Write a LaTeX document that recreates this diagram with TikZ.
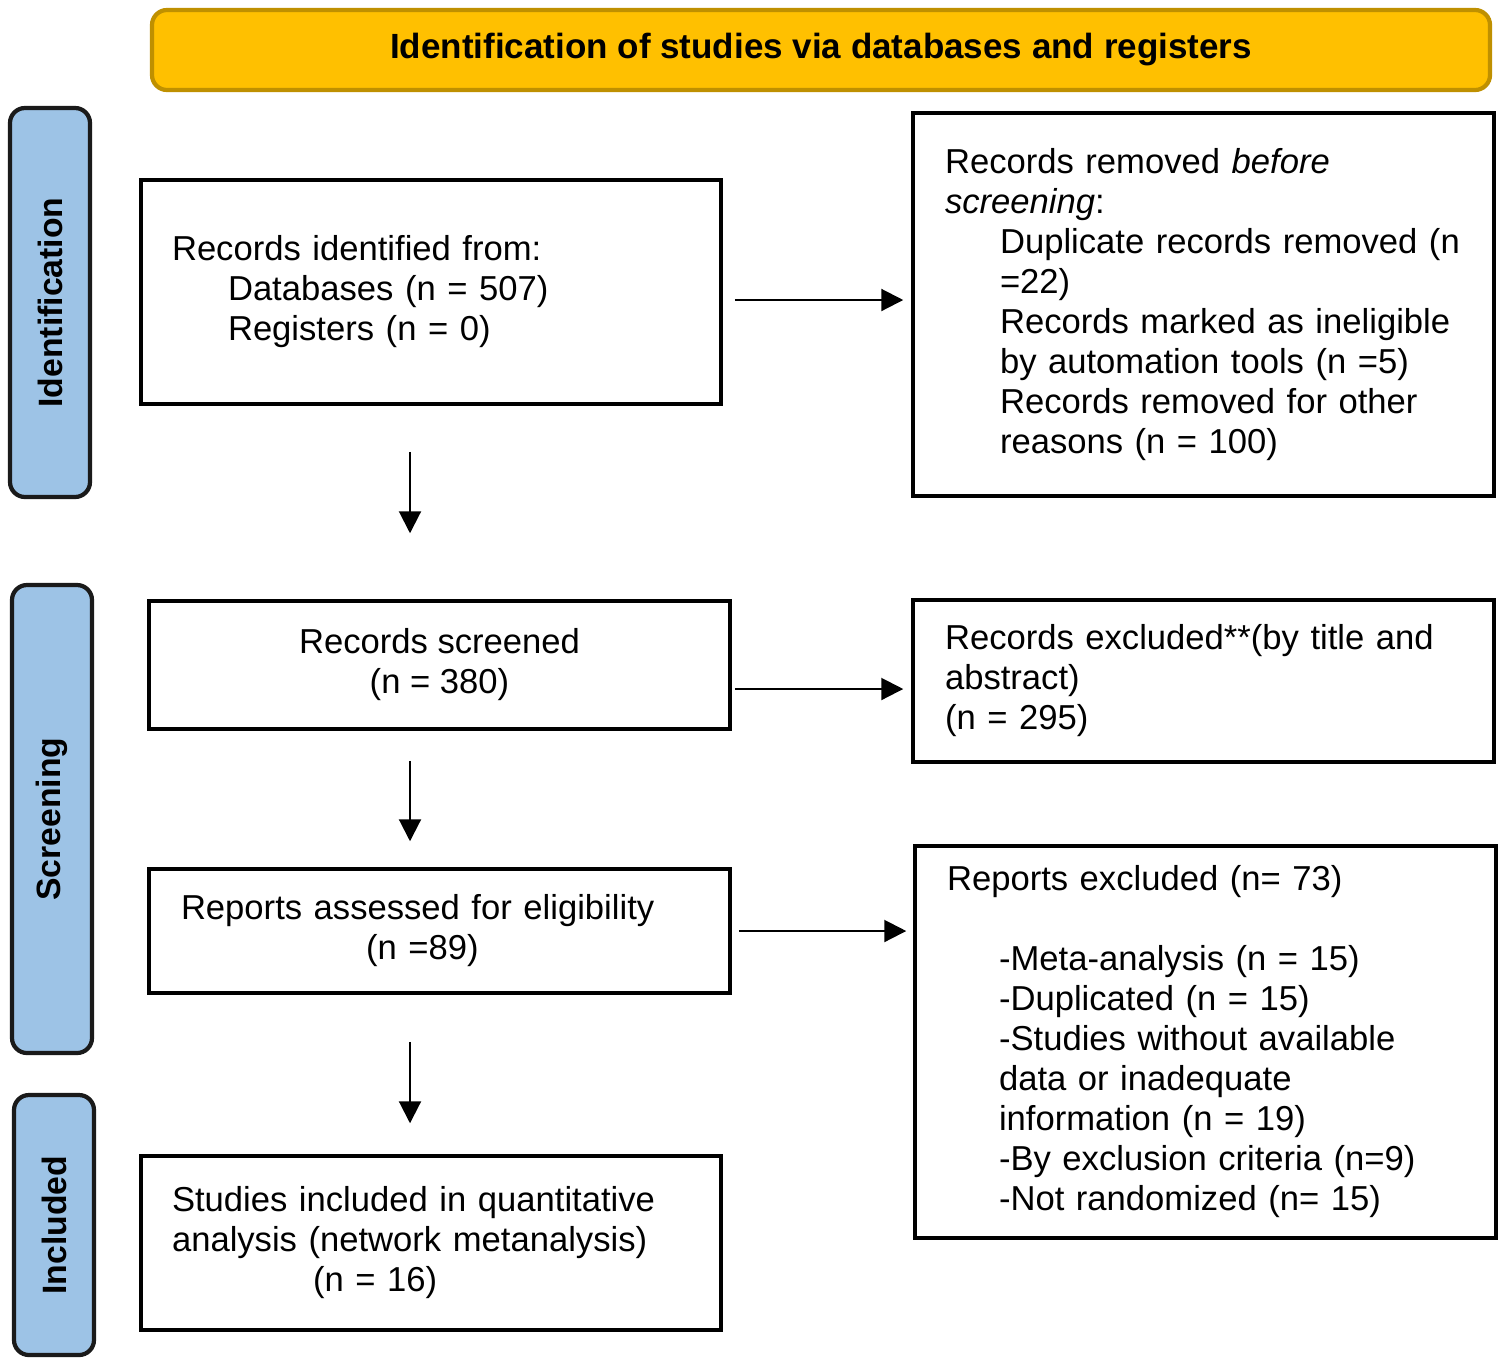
\documentclass[tikz,border=0pt]{standalone}
\usepackage{fontspec}
\setmainfont{Liberation Sans}
\usepackage{xcolor}
\usetikzlibrary{arrows.meta,positioning,calc}
\definecolor{bannerfill}{HTML}{FFC000}
\definecolor{bannerdraw}{HTML}{BF9000}
\definecolor{phasefill}{HTML}{9DC3E6}
\definecolor{phasedraw}{HTML}{1A1A1A}

\begin{document}
\begin{tikzpicture}[box/.style={rectangle,draw=black,line width=1pt,minimum width=5.80cm,font=\fontsize{9.85}{11.38}\selectfont}, leftbox/.style={box,align=left,text width=5.18cm,inner xsep=0.31cm}, rbox/.style={leftbox,minimum width=5.81cm,text width=5.17cm,inner xsep=0.32cm}, midbox/.style={box,minimum width=5.81cm,align=center}, phase/.style={rectangle,rounded corners=0.15cm,draw=phasedraw,line width=1.2pt,fill=phasefill,rotate=90,minimum height=0.80cm,font=\fontsize{9.6}{11}\selectfont\bfseries}, flow/.style={->,>={Triangle[length=0.22cm,width=0.22cm]},line width=0.6pt}]
		\useasboundingbox (0,0) rectangle (15.02,-13.65);
		\node (banner) [rectangle,rounded corners=0.15cm,draw=bannerdraw,line width=1.2pt,fill=bannerfill,minimum width=13.38cm,minimum height=0.80cm,font=\fontsize{9.96}{11.38}\selectfont\bfseries] at (8.21,-0.50) {Identification of studies via databases and registers};
		\node (phI) [phase,minimum width=3.89cm] at (0.50,-3.025) {Identification};
		\node (phS) [phase,minimum width=4.68cm] at (0.52,-8.19) {Screening};
		\node (phC) [phase,minimum width=2.60cm] at (0.54,-12.25) {Included};
		\node (B1) [leftbox,minimum height=2.24cm] at (4.31,-2.92) {Records identified from:\\ \hspace*{0.56cm}Databases (n = 507)\\ \hspace*{0.56cm}Registers (n = 0)};
		\node (R1) [rbox,minimum height=3.83cm] at (12.035,-3.045) {Records removed \textit{before}\\ \textit{screening}:\\ \hspace*{0.55cm}\mbox{Duplicate records removed (n}\\ \hspace*{0.55cm}=22)\\ \hspace*{0.55cm}Records marked as ineligible\\ \hspace*{0.55cm}by automation tools (n =5)\\ \hspace*{0.55cm}Records removed for other\\ \hspace*{0.55cm}reasons (n = 100)};
		\node (B2) [midbox,minimum height=1.28cm] at (4.395,-6.65) {Records screened\\ (n = 380)};
		\node (R2) [rbox,minimum height=1.62cm] at (12.035,-6.81) {Records excluded**(by title and\\ abstract)\\ (n = 295)};
		\node (B3) [rbox,minimum height=1.24cm] at (4.395,-9.31) {Reports assessed for eligibility\\ \hspace*{1.85cm}(n =89)};
		\node (R3) [rbox,minimum height=3.92cm] at (12.055,-10.42) {Reports excluded (n= 73)\\[0.4cm] \hspace*{0.52cm}-Meta-analysis (n = 15)\\ \hspace*{0.52cm}-Duplicated (n = 15)\\ \hspace*{0.52cm}-Studies without available\\ \hspace*{0.52cm}data or inadequate\\ \hspace*{0.52cm}information (n = 19)\\ \hspace*{0.52cm}-By exclusion criteria (n=9)\\ \hspace*{0.52cm}-Not randomized (n= 15)};
		\node (B4) [leftbox,minimum height=1.74cm] at (4.31,-12.43) {Studies included in quantitative\\ analysis (network metanalysis)\\ \hspace*{1.41cm}(n = 16)};
		\coordinate (spine) at (4.10,0);
		\coordinate (h1) at ([yshift=-0.08cm]B1.east);
		\coordinate (h2) at ([yshift=-0.08cm]R2.west);
		\draw[flow,shorten <=0.46cm,shorten >=0.66cm] (B1.south -| spine) -- (B2.north -| spine);
		\draw[flow,shorten <=0.30cm,shorten >=0.26cm] (B2.south -| spine) -- (B3.north -| spine);
		\draw[flow,shorten <=0.47cm,shorten >=0.31cm] (B3.south -| spine) -- (B4.north -| spine);
		\draw[flow,shorten <=0.12cm,shorten >=0.08cm] (h1) -- (h1 -| R1.west);
		\draw[flow,shorten <=0.03cm,shorten >=0.08cm] (h2 -| B2.east) -- (h2);
		\draw[flow,shorten <=0.07cm,shorten >=0.07cm] (B3.east) -- (B3.east -| R3.west);
	\end{tikzpicture}
\end{document}
